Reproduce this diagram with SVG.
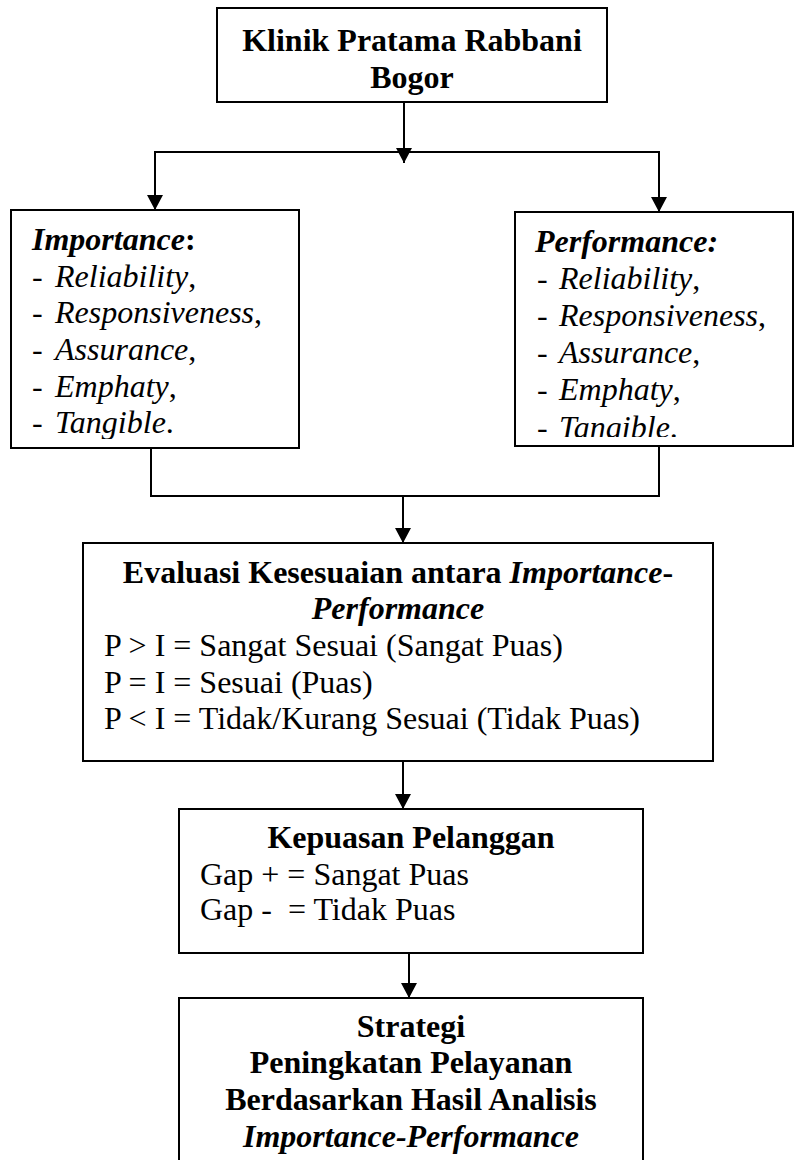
<svg xmlns="http://www.w3.org/2000/svg" width="795" height="1160" viewBox="0 0 795 1160">
<style>
  .box { fill: #fff; stroke: #000; stroke-width: 2; }
  .ln { fill: none; stroke: #000; stroke-width: 2; }
  text { font-family: "Liberation Serif", "Times New Roman", serif; font-size: 32px; fill: #000; white-space: pre; }
  .b { font-weight: bold; }
  .i { font-style: italic; }
  .c { text-anchor: middle; }
</style>
<defs>
  <marker id="arr" markerUnits="userSpaceOnUse" viewBox="0 0 15 16" refX="15" refY="8" markerWidth="15" markerHeight="16" orient="auto">
    <path d="M0,0 L15,8 L0,16 z" fill="#000"/>
  </marker>
  <clipPath id="clipL"><rect x="12" y="211" width="286" height="228"/></clipPath>
  <clipPath id="clipR"><rect x="516" y="213" width="276" height="224"/></clipPath>
</defs>
<rect width="795" height="1160" fill="#fff"/>

<g id="connectors">
  <line class="ln" x1="404" y1="102" x2="404" y2="163" marker-end="url(#arr)"/>
  <line class="ln" x1="154" y1="152" x2="660" y2="152"/>
  <line class="ln" x1="155" y1="152" x2="155" y2="210" marker-end="url(#arr)"/>
  <line class="ln" x1="659" y1="152" x2="659" y2="212" marker-end="url(#arr)"/>
  <polyline class="ln" points="151,448 151,496 659,496 659,446"/>
  <line class="ln" x1="403" y1="496" x2="403" y2="543" marker-end="url(#arr)"/>
  <line class="ln" x1="403" y1="761" x2="403" y2="809" marker-end="url(#arr)"/>
  <line class="ln" x1="409" y1="953" x2="409" y2="998" marker-end="url(#arr)"/>
</g>

<g id="klinik">
  <rect class="box" x="217" y="8" width="390" height="94"/>
  <text class="b c" x="412" y="51">Klinik Pratama Rabbani</text>
  <text class="b c" x="412" y="88">Bogor</text>
</g>

<g id="importance">
  <rect class="box" x="11" y="210" width="288" height="238"/>
  <g clip-path="url(#clipL)">
    <text class="b i" x="32" y="250">Importance<tspan font-style="normal">:</tspan></text>
    <text x="32" y="287">-<tspan class="i" x="55">Reliability</tspan>,</text>
    <text x="32" y="323">-<tspan class="i" x="55">Responsiveness</tspan>,</text>
    <text x="32" y="360">-<tspan class="i" x="55">Assurance</tspan>,</text>
    <text x="32" y="397">-<tspan class="i" x="55">Emphaty</tspan>,</text>
    <text x="32" y="433">-<tspan class="i" x="55">Tangible</tspan>.</text>
  </g>
</g>

<g id="performance">
  <rect class="box" x="515" y="212" width="278" height="234"/>
  <g clip-path="url(#clipR)">
    <text class="b i" x="535" y="252">Performance:</text>
    <text x="537" y="289">-<tspan class="i" x="559">Reliability</tspan>,</text>
    <text x="537" y="326">-<tspan class="i" x="559">Responsiveness</tspan>,</text>
    <text x="537" y="363">-<tspan class="i" x="559">Assurance</tspan>,</text>
    <text x="537" y="400">-<tspan class="i" x="559">Emphaty</tspan>,</text>
    <text x="537" y="438">-<tspan class="i" x="559">Tangible</tspan>.</text>
  </g>
</g>

<g id="evaluasi">
  <rect class="box" x="83" y="543" width="630" height="218"/>
  <text class="b c" x="398" y="583">Evaluasi Kesesuaian antara <tspan class="i">Importance</tspan>-</text>
  <text class="b i c" x="398" y="619">Performance</text>
  <text x="104" y="656">P &gt; I = Sangat Sesuai (Sangat Puas)</text>
  <text x="104" y="693">P = I = Sesuai (Puas)</text>
  <text x="104" y="729">P &lt; I = Tidak/Kurang Sesuai (Tidak Puas)</text>
</g>

<g id="kepuasan">
  <rect class="box" x="179" y="809" width="464" height="144"/>
  <text class="b c" x="411" y="848">Kepuasan Pelanggan</text>
  <text x="200" y="885">Gap + = Sangat Puas</text>
  <text x="200" y="920">Gap -  = Tidak Puas</text>
</g>

<g id="strategi">
  <rect class="box" x="179" y="998" width="464" height="170"/>
  <text class="b c" x="411" y="1037">Strategi</text>
  <text class="b c" x="411" y="1073">Peningkatan Pelayanan</text>
  <text class="b c" x="411" y="1110">Berdasarkan Hasil Analisis</text>
  <text class="b i c" x="411" y="1147">Importance-Performance</text>
</g>
</svg>
